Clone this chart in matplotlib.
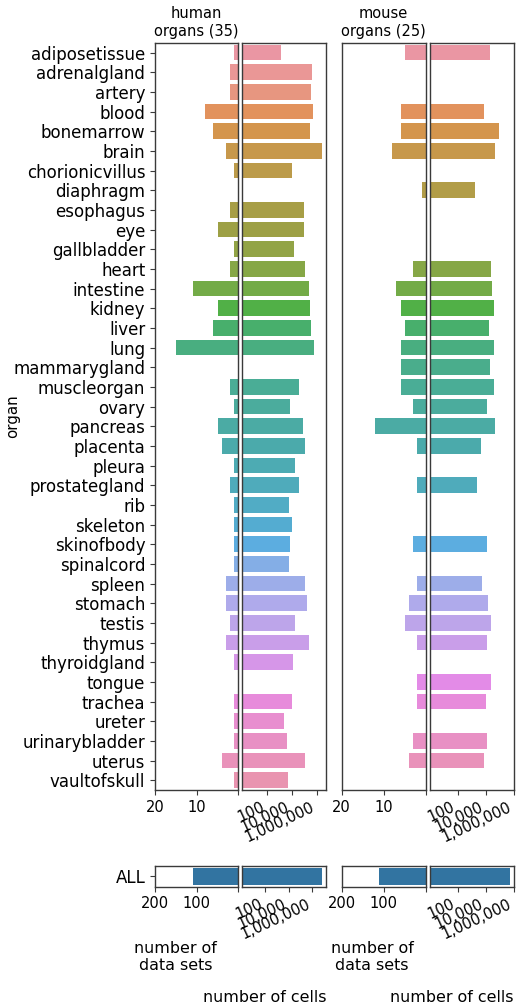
import numpy as np
import matplotlib
matplotlib.use("Agg")
import matplotlib.pyplot as plt
import matplotlib.ticker as mticker
import seaborn as sns

plt.rcParams['font.family'] = ['DejaVu Sans']

organs = ["adiposetissue", "adrenalgland", "artery", "blood", "bonemarrow", "brain",
          "chorionicvillus", "diaphragm", "esophagus", "eye", "gallbladder", "heart",
          "intestine", "kidney", "liver", "lung", "mammarygland", "muscleorgan", "ovary",
          "pancreas", "placenta", "pleura", "prostategland", "rib", "skeleton",
          "skinofbody", "spinalcord", "spleen", "stomach", "testis", "thymus",
          "thyroidgland", "tongue", "trachea", "ureter", "urinarybladder", "uterus",
          "vaultofskull"]

# number of data sets per organ (0 = organ not covered)
human_datasets = [1, 2, 2, 8, 6, 3, 1, 0, 2, 5, 1, 2, 11, 5, 6, 15, 0, 2, 1,
                  5, 4, 1, 2, 1, 1, 1, 1, 3, 3, 2, 3, 1, 0, 1, 1, 1, 4, 1]
mouse_datasets = [5, 0, 0, 6, 6, 8, 0, 1, 0, 0, 0, 3, 7, 6, 5, 6, 6, 6, 3,
                  12, 2, 0, 2, 0, 0, 3, 0, 2, 4, 5, 2, 0, 2, 2, 0, 3, 4, 0]

# number of cells per organ
human_cells = [1400, 450000, 330000, 540000, 310000, 2800000, 10500, 0, 102000, 102000,
               15000, 115000, 257000, 310000, 330000, 600000, 0, 38000, 7200,
               85000, 110000, 19500, 36000, 6000, 11000, 6900, 6000, 115000, 158000,
               19500, 257000, 13500, 0, 10000, 2400, 4000, 123000, 5000]
mouse_cells = [19500, 0, 0, 7200, 85000, 49000, 0, 1800, 0, 0, 0, 23000, 27000, 40000,
               18000, 43600, 21400, 41700, 13800, 51000, 4400, 0, 2500, 0, 0, 13200, 0,
               5800, 14800, 23000, 13800, 0, 24000, 11200, 0, 13800, 7900, 0]

species = ["human", "mouse"]
n_organs = [35, 25]

W, H = 519, 1006
fig = plt.figure(figsize=(W / 100, H / 100), dpi=100)

FS_ORGAN = 12.0   # organ names
FS_TITLE = 10.5   # panel titles
FS_LABEL = 11.4   # axis labels
FS_NUM = 10.5     # numeric tick labels
spine_col = "#3a3a3a"

palette = [sns.desaturate(c, 0.75) for c in sns.husl_palette(len(organs), l=0.70)]
all_color = sns.desaturate(sns.color_palette()[0], 0.75)


def px_axes(x0, x1, y0, y1):
    return fig.add_axes([x0 / W, 1 - y1 / H, (x1 - x0) / W, (y1 - y0) / H])


def comma_fmt(v, pos):
    return f"{int(round(v)):,}"


def style(ax):
    for s in ax.spines.values():
        s.set_color(spine_col)
        s.set_linewidth(1.0)
    ax.tick_params(axis="x", labelsize=FS_NUM, color=spine_col, length=3.5, width=0.8)
    ax.tick_params(axis="y", labelsize=FS_ORGAN, color=spine_col, length=3.5, width=0.8)


def log_cells_axis(ax, lim):
    ax.set_xscale("log")
    ax.set_xlim(*lim)
    ax.set_yticks([])
    ax.set_xticks([1e2, 1e4, 1e6])
    ax.xaxis.set_minor_locator(mticker.NullLocator())
    ax.xaxis.set_major_formatter(mticker.FuncFormatter(comma_fmt))
    style(ax)
    plt.setp(ax.get_xticklabels(), rotation=25, ha="right")


columns = [
    # (left x0, left x1, right x0, right x1, cell limits top, cell limits ALL)
    (155.0, 238.5, 241.7, 326.0, (1, 10 ** 6.74), (1, 10 ** 7.17)),
    (341.7, 425.7, 429.5, 513.5, (1, 10 ** 6.0), (1, 10 ** 6.0)),
]
datasets = [human_datasets, mouse_datasets]
cells = [human_cells, mouse_cells]
top_y = (42.7, 790.0)
all_y = (866.0, 886.7)

y = np.arange(len(organs))
for i, (lx0, lx1, rx0, rx1, clim, clim_all) in enumerate(columns):
    # data sets (mirrored axis)
    axl = px_axes(lx0, lx1, *top_y)
    d = np.array(datasets[i], dtype=float)
    axl.barh(y, d, height=0.8, color=palette)
    axl.set_xlim(20, 0)
    axl.set_ylim(len(organs) - 0.5, -0.5)
    axl.set_xticks([20, 10, 0])
    axl.set_xticklabels(["20", "10", ""])
    style(axl)
    axl.set_title(f"{species[i]}\norgans ({n_organs[i]})", fontsize=FS_TITLE, pad=5)
    if i == 0:
        axl.set_yticks(y)
        axl.set_yticklabels(organs)
        axl.set_ylabel("organ", fontsize=FS_LABEL - 0.6)
        axl.yaxis.set_label_coords((20 - lx0) / (lx1 - lx0), 0.5)
    else:
        axl.set_yticks([])

    # cells (log axis)
    axr = px_axes(rx0, rx1, *top_y)
    c = np.array(cells[i], dtype=float)
    axr.barh(y, np.where(c > 0, c, np.nan), height=0.8, color=palette)
    axr.set_ylim(len(organs) - 0.5, -0.5)
    log_cells_axis(axr, clim)

    # ALL row
    axla = px_axes(lx0, lx1, *all_y)
    axla.barh([0], [d.sum()], height=0.8, color=all_color)
    axla.set_xlim(200, 0)
    axla.set_ylim(0.5, -0.5)
    axla.set_xticks([200, 100, 0])
    axla.set_xticklabels(["200", "100", ""])
    style(axla)
    if i == 0:
        axla.set_yticks([0])
        axla.set_yticklabels(["ALL"], fontsize=FS_ORGAN)
    else:
        axla.set_yticks([])
    axla.set_xlabel("number of\ndata sets", fontsize=FS_LABEL)
    axla.xaxis.set_label_coords([0.25, 0.36][i], -2.6)

    axra = px_axes(rx0, rx1, *all_y)
    axra.barh([0], [c.sum()], height=0.8, color=all_color)
    axra.set_ylim(0.5, -0.5)
    log_cells_axis(axra, clim_all)
    axra.set_xlabel("number of cells", fontsize=FS_LABEL, ha="right")
    axra.xaxis.set_label_coords(1.0, -5.0)

fig.savefig("out.png", dpi=100)
